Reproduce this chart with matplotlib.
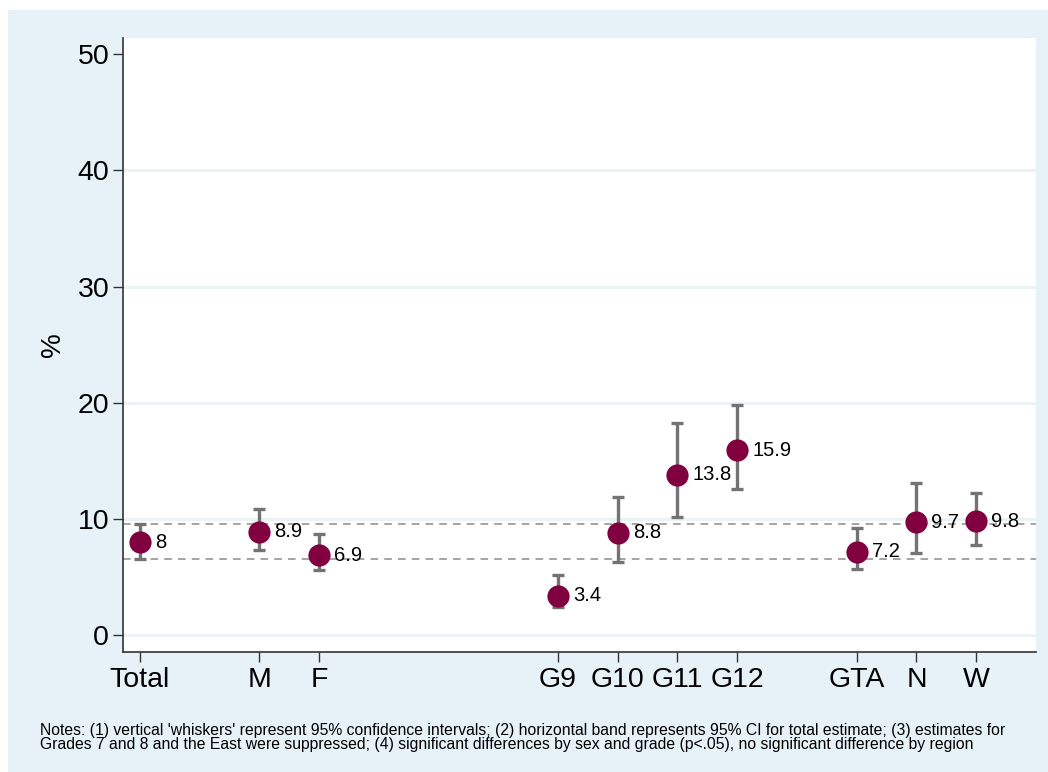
import numpy as np
import matplotlib.pyplot as plt
from matplotlib.patches import Rectangle

plt.rcParams['font.family'] = ['Liberation Sans', 'DejaVu Sans']

# data
labels = ['Total', 'M', 'F', 'G9', 'G10', 'G11', 'G12', 'GTA', 'N', 'W']
xpos = [1, 3, 4, 8, 9, 10, 11, 13, 14, 15]
est = [8, 8.9, 6.9, 3.4, 8.8, 13.8, 15.9, 7.2, 9.7, 9.8]
lo = [6.6, 7.3, 5.6, 2.4, 6.3, 10.2, 12.6, 5.7, 7.1, 7.8]
hi = [9.6, 10.9, 8.7, 5.2, 11.9, 18.3, 19.8, 9.2, 13.1, 12.2]
band = [6.6, 9.6]

bg = '#E6F2F8'
fig = plt.figure(figsize=(10.48, 7.72), dpi=100, facecolor=bg)
# thin white border at top and left
fig.patches.append(Rectangle((0, 1 - 10 / 772), 1, 10 / 772, transform=fig.transFigure,
                             facecolor='white', edgecolor='none', zorder=0))
fig.patches.append(Rectangle((0, 0), 8 / 1048, 1, transform=fig.transFigure,
                             facecolor='white', edgecolor='none', zorder=0))

ax = fig.add_axes([0.1174, 0.1554, 0.8711, 0.7954])
ax.set_zorder(2)
ax.set_facecolor('white')
ax.set_xlim(0.72, 16.0)
ax.set_ylim(-1.45, 51.4)

# gridlines
for y in [0, 10, 20, 30, 40]:
    ax.axhline(y, color='#EAF2F3', lw=2.2, zorder=1)

# band for total CI
for b in band:
    ax.axhline(b, color='#8C8C8C', lw=1.1, ls=(0, (5, 4)), zorder=2)

err = [np.array(est) - np.array(lo), np.array(hi) - np.array(est)]
ax.errorbar(xpos, est, yerr=err, fmt='none', ecolor='#737373',
            elinewidth=2.4, capsize=4.3, capthick=2.4, zorder=3)
ax.plot(xpos, est, 'o', color='#800040', markersize=16, mec='none', zorder=4)

for x, v in zip(xpos, est):
    ax.text(x + 0.25, v, f'{v:g}', ha='left', va='center', fontsize=14.5,
            color='black', zorder=5)

ax.set_xticks(xpos)
ax.set_xticklabels(labels, fontsize=20.5)
ax.set_yticks([0, 10, 20, 30, 40, 50])
ax.tick_params(axis='y', labelsize=20.5, length=7, width=1, color='#333333', pad=3)
ax.tick_params(axis='x', length=7, width=1, color='#333333', pad=4)
ax.set_ylabel('%', fontsize=20, labelpad=8)

for s in ['top', 'right']:
    ax.spines[s].set_visible(False)
for s in ['left', 'bottom']:
    ax.spines[s].set_color('#333333')
    ax.spines[s].set_linewidth(1.2)

fig.text(40 / 1048, 1 - 737.5 / 772,
         "Notes: (1) vertical 'whiskers' represent 95% confidence intervals; (2) horizontal band represents 95% CI for total estimate; (3) estimates for\n"
         "Grades 7 and 8 and the East were suppressed; (4) significant differences by sex and grade (p<.05), no significant difference by region",
         fontsize=11.35, ha='left', va='center', linespacing=0.95)

fig.savefig('out.png', dpi=100, facecolor=bg)
